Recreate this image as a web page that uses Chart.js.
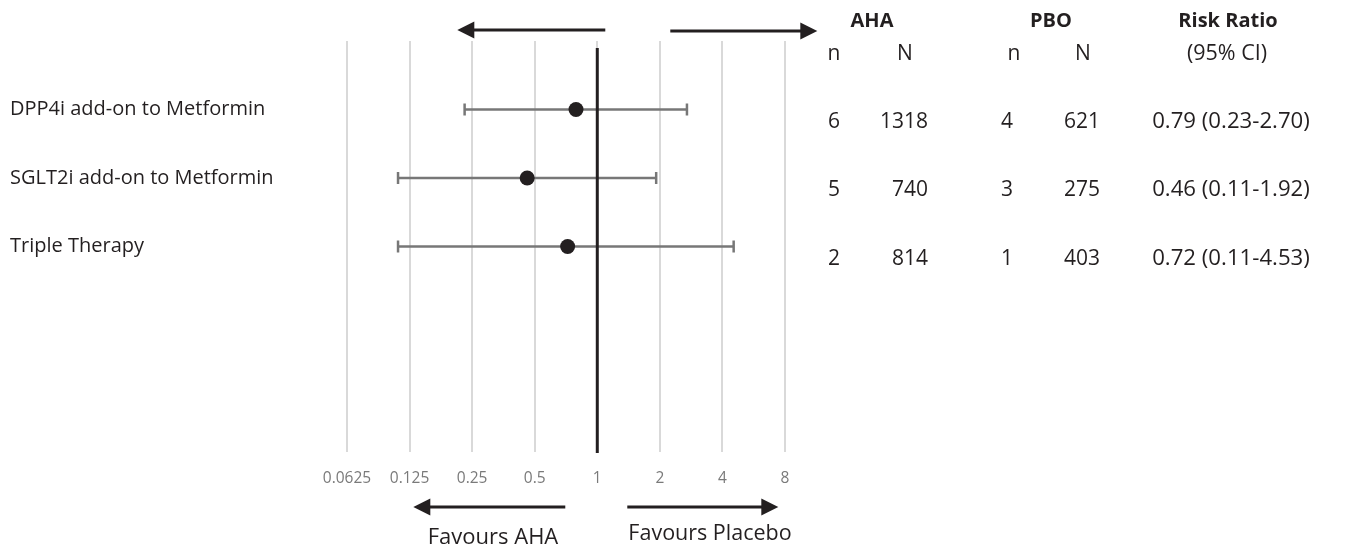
<!DOCTYPE html>
<html>
<head>
<meta charset="utf-8">
<script src="https://cdn.jsdelivr.net/npm/chart.js@4.4.1/dist/chart.umd.min.js"></script>
<style>
  html, body { margin: 0; padding: 0; background: #ffffff; }
  #wrap { position: relative; width: 1346px; height: 547px; overflow: hidden; font-family: 'Open Sans', sans-serif; color: #231f20; }
  #c { position: absolute; left: 0; top: 0; }
  .t { position: absolute; white-space: nowrap; line-height: 1; }
  .ctr { transform: translateX(-50%); }
  .rgt { transform: translateX(-100%); }
  .b { font-weight: 700; }
</style>
</head>
<body>
<div id="wrap">
  <canvas id="c" width="1346" height="547"></canvas>
</div>
<script>
// ---------------- data ----------------
const categories = ["DPP4i add-on to Metformin", "SGLT2i add-on to Metformin", "Triple Therapy"];
const riskRatio  = [0.79, 0.46, 0.72];
const ciLower    = [0.23, 0.11, 0.11];
const ciUpper    = [2.70, 1.92, 4.53];
const ahaEvents  = [6, 5, 2];
const ahaTotal   = [1318, 740, 814];
const pboEvents  = [4, 3, 1];
const pboTotal   = [621, 275, 403];
const tickValues = [0.0625, 0.125, 0.25, 0.5, 1, 2, 4, 8];
const tickLabels = ["0.0625", "0.125", "0.25", "0.5", "1", "2", "4", "8"];
const rowIndex   = [1, 2, 3];

// ---------------- chart ----------------
Chart.defaults.font.family = "'Open Sans', sans-serif";

const datasets = [];
categories.forEach((c, i) => {
  datasets.push({
    type: 'line',
    label: c + ' CI',
    data: [{x: ciLower[i], y: rowIndex[i]}, {x: ciUpper[i], y: rowIndex[i]}],
    borderColor: '#777777',
    borderWidth: 2.5,
    pointStyle: 'line',
    rotation: 90,
    pointRadius: 6,
    pointBorderWidth: 2.5,
    pointBorderColor: '#777777',
    fill: false,
    order: 2
  });
});
datasets.push({
  type: 'scatter',
  label: 'Risk ratio',
  data: riskRatio.map((v, i) => ({x: v, y: rowIndex[i]})),
  pointRadius: 7.5,
  pointBackgroundColor: '#231f20',
  pointBorderColor: '#231f20',
  pointBorderWidth: 0,
  order: 1
});

function arrow(ctx, x1, y, x2) {
  const dir = Math.sign(x2 - x1);
  const head = 17;
  ctx.save();
  ctx.strokeStyle = '#231f20';
  ctx.fillStyle = '#231f20';
  ctx.lineWidth = 3;
  ctx.beginPath();
  ctx.moveTo(x1, y);
  ctx.lineTo(x2 - dir * head + dir * 2, y);
  ctx.stroke();
  ctx.beginPath();
  ctx.moveTo(x2, y);
  ctx.lineTo(x2 - dir * head, y - 8.5);
  ctx.lineTo(x2 - dir * head, y + 8.5);
  ctx.closePath();
  ctx.fill();
  ctx.restore();
}

const decor = {
  id: 'decor',
  afterDatasetsDraw(chart) {
    const ctx = chart.ctx;
    const xs = chart.scales.x;
    const area = chart.chartArea;
    const p1 = xs.getPixelForValue(1);
    // reference line at RR = 1
    ctx.save();
    ctx.strokeStyle = '#231f20';
    ctx.lineWidth = 3;
    ctx.beginPath();
    ctx.moveTo(p1, area.top + 7);
    ctx.lineTo(p1, area.bottom + 1);
    ctx.stroke();
    ctx.restore();
    // arrows
    const topY = area.top - 11;
    arrow(ctx, p1 + 8, topY, p1 - 140);
    arrow(ctx, p1 + 73, topY + 1, p1 + 220);
    const botY = 507;
    arrow(ctx, p1 - 32, botY, p1 - 184);
    arrow(ctx, p1 + 30, botY, p1 + 181);
  }
};

new Chart(document.getElementById('c'), {
  type: 'scatter',
  data: { datasets },
  options: {
    responsive: false,
    animation: false,
    layout: { padding: { left: 10, right: 561, top: 41, bottom: 0 } },
    plugins: { legend: { display: false }, tooltip: { enabled: false } },
    scales: {
      x: {
        type: 'logarithmic',
        min: 0.0625,
        max: 8,
        afterBuildTicks(axis) { axis.ticks = tickValues.map(v => ({ value: v })); },
        afterFit(axis) { axis.height = 95; },
        grid: { color: '#d9d9d9', lineWidth: 2, drawTicks: false },
        border: { display: false },
        ticks: {
          autoSkip: false,
          maxRotation: 0,
          padding: 17,
          color: '#7a7a7a',
          font: { size: 15.5 },
          callback(v, i) { return tickLabels[i]; }
        }
      },
      y: {
        type: 'linear',
        min: 0,
        max: 6,
        reverse: true,
        afterBuildTicks(axis) { axis.ticks = rowIndex.map(v => ({ value: v })); },
        afterFit(axis) { axis.width = 337; },
        grid: { display: false },
        border: { display: false },
        ticks: {
          crossAlign: 'far',
          padding: 0,
          color: '#231f20',
          font: { size: 20 },
          callback(v) { return categories[v - 1]; }
        }
      }
    }
  },
  plugins: [decor]
});

// ---------------- table text ----------------
const wrap = document.getElementById('wrap');
function addText(txt, x, y, size, cls) {
  const d = document.createElement('div');
  d.className = 't ' + cls;
  d.textContent = txt;
  d.style.fontSize = size + 'px';
  d.style.left = x + 'px';
  d.style.top = (y - size / 2) + 'px';
  wrap.appendChild(d);
}
addText('AHA', 872, 20, 20, 'ctr b');
addText('PBO', 1051, 20, 20, 'ctr b');
addText('Risk Ratio', 1228, 20, 20, 'ctr b');
addText('n', 834, 52, 21, 'ctr');
addText('N', 905, 52, 21, 'ctr');
addText('n', 1014, 52, 21, 'ctr');
addText('N', 1083, 52, 21, 'ctr');
addText('(95% CI)', 1227, 52, 21.5, 'ctr');
const rowY = [120, 188, 257];
categories.forEach((c, i) => {
  addText(String(ahaEvents[i]), 834, rowY[i], 21, 'ctr');
  addText(String(ahaTotal[i]), 928, rowY[i], 21, 'rgt');
  addText(String(pboEvents[i]), 1007, rowY[i], 21, 'ctr');
  addText(String(pboTotal[i]), 1100, rowY[i], 21, 'rgt');
  addText(riskRatio[i].toFixed(2) + ' (' + ciLower[i].toFixed(2) + '-' + ciUpper[i].toFixed(2) + ')', 1231, rowY[i], 22.2, 'ctr');
});
addText('Favours AHA', 493, 535, 22, 'ctr');
addText('Favours Placebo', 710, 532, 21.5, 'ctr');
</script>
</body>
</html>
